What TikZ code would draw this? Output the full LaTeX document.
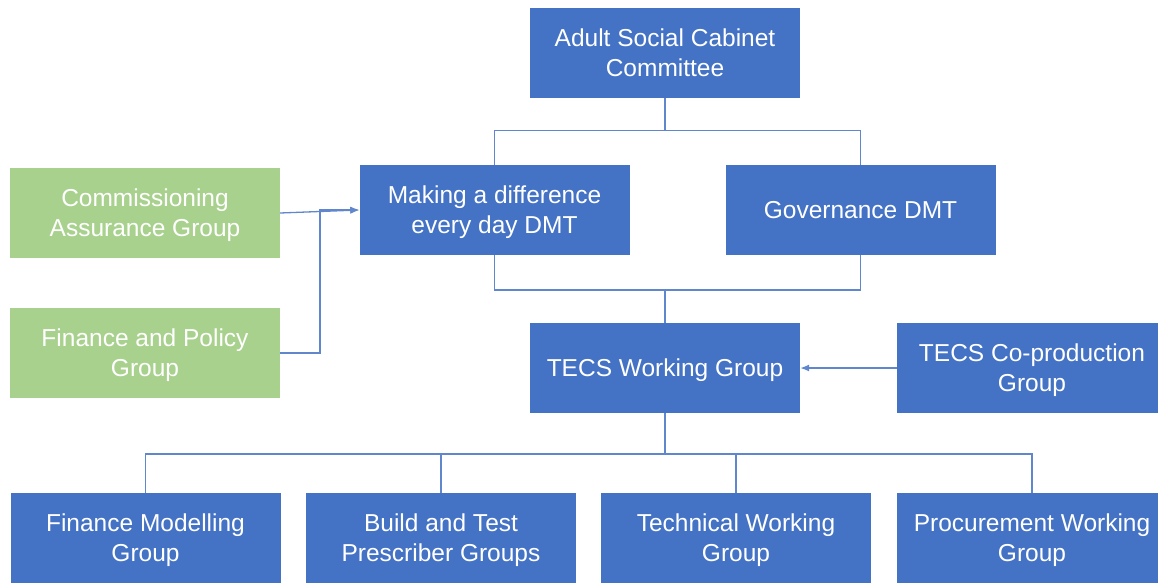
\documentclass[tikz,border=0pt]{standalone}
\usepackage{fontspec}
\setmainfont{Liberation Sans}
\usetikzlibrary{positioning, arrows.meta, calc}
\definecolor{boxblue}{HTML}{4472C4}
\definecolor{boxgreen}{HTML}{A9D18E}
\newcommand{\linkArrow}{{Latex[length=9pt, width=7pt]}}

\tikzset{
	blue box/.style={fill=boxblue, text=white, minimum width=270pt, minimum height=90pt,
		inner sep=0pt, text depth=0pt, align=center, font=\fontsize{24.5}{30}\selectfont},
	green box/.style={blue box, fill=boxgreen},
	link/.style={draw=boxblue!85, line width=1.3pt},
}

\begin{document}
\begin{tikzpicture}[x=1pt, y=-1pt]
	\useasboundingbox (0,0) rectangle (1158,583);
	\clip (0,0) rectangle (1158,583);

	\node[blue box] (cabinet) at (665,53) {Adult Social Cabinet\\Committee};
	\node[blue box] (making) at (494.5,210) {Making a difference\\every day DMT};
	\node[blue box] (governance) at (860.5,210) {Governance DMT};
	\node[green box] (commission) at (145,213) {Commissioning\\Assurance Group};
	\node[green box] (finpolicy) at (145,353) {Finance and Policy\\Group};
	\node[blue box] (tecs) at (665,368) {TECS Working Group};
	\node[blue box] (coprod) at (1032,368) {TECS Co-production\\Group};

	\node[blue box] (finmodel) at (145.5,538) {Finance Modelling\\Group};
	\node[blue box] (buildtest) at (441,538) {Build and Test\\Prescriber Groups};
	\node[blue box] (technical) at (736,538) {Technical Working\\Group};
	\node[blue box] (procure) at (1032,538) {Procurement Working\\Group};

	% tree joints
	\coordinate (split1) at ($(cabinet.south)+(0,32)$);
	\coordinate (split2) at (665,290);
	\coordinate (split3) at (665,454);
	\coordinate (merge) at (320,210);

	\draw[link] (cabinet.south) -- (split1);
	\draw[link] (split1) -| (making.north);
	\draw[link] (split1) -| (governance.north);

	\draw[link] (making.south) |- (split2) -| (governance.south);
	\draw[link] (split2) -- (tecs.north);

	\draw[link] (tecs.south) -- (split3);
	\foreach \n in {finmodel, buildtest, technical, procure}
		\draw[link] (split3) -| (\n.north);

	% side groups feeding in
	\draw[link, -\linkArrow] (commission.east) -- (making.west);
	\draw[link, -\linkArrow] (finpolicy.east) -| (merge) -- (making.west);
	\draw[link, -\linkArrow] (coprod.west) -- (tecs.east);
\end{tikzpicture}
\end{document}
